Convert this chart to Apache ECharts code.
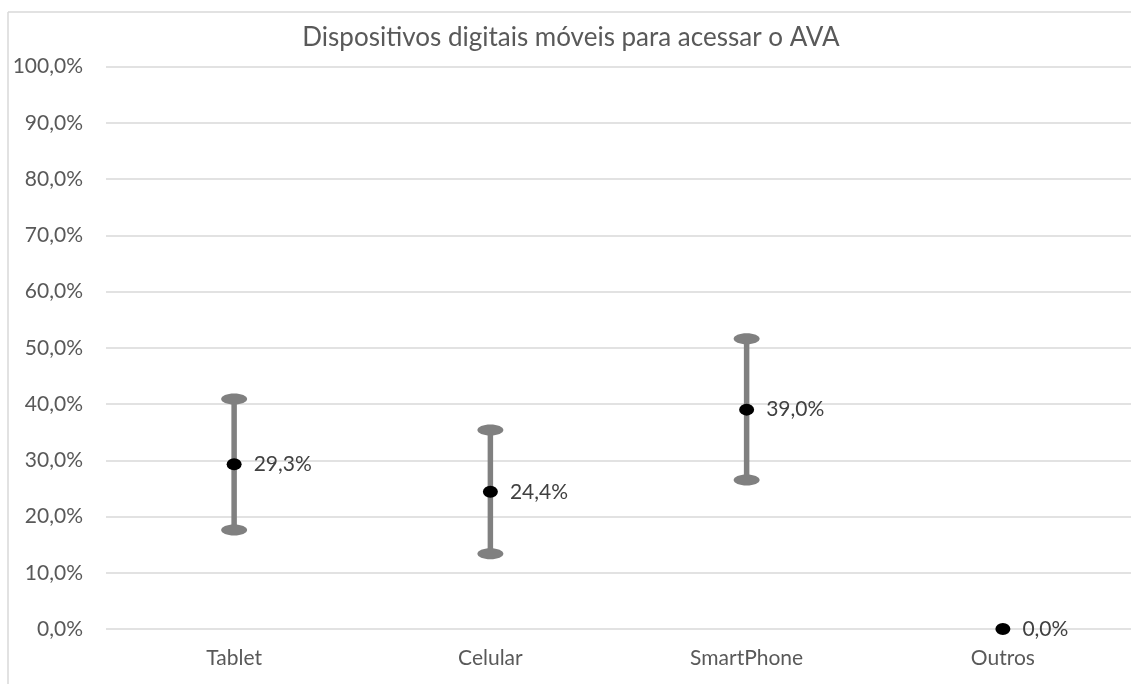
<!DOCTYPE html>
<html><head><meta charset="utf-8">
<script src="https://cdn.jsdelivr.net/npm/echarts@6/dist/echarts.min.js"></script>
<style>html,body{margin:0;padding:0;background:#fff}#c{width:1131px;height:684px}</style>
</head><body><div id="c"></div>
<script>
const categories = ['Tablet', 'Celular', 'SmartPhone', 'Outros'];
const values = [29.3, 24.4, 39.0, 0.0];
const lower = [17.6, 13.4, 26.5, 0.0];
const upper = [40.9, 35.4, 51.6, 0.0];
const yTicks = [0, 10, 20, 30, 40, 50, 60, 70, 80, 90, 100];

const fmt = v => v.toFixed(1).replace('.', ',') + '%';
const FONT = 'Lato';

const chart = echarts.init(document.getElementById('c'));
chart.setOption({
  animation: false,
  backgroundColor: '#fff',
  title: {
    text: 'Dispositivos digitais móveis para acessar o AVA',
    left: 566, top: 20, textAlign: 'center',
    textStyle: { fontFamily: FONT, fontSize: 26, fontWeight: 'normal', color: '#595959' }
  },
  graphic: [
    { type: 'line', shape: { x1: 8, y1: 12, x2: 8, y2: 684 }, style: { stroke: '#d9d9d9', lineWidth: 1.5 } },
    { type: 'line', shape: { x1: 8, y1: 12, x2: 1131, y2: 12 }, style: { stroke: '#d9d9d9', lineWidth: 1.5 } }
  ],
  grid: { left: 106, right: -8, top: 66.5, bottom: 55, containLabel: false },
  xAxis: {
    type: 'category', data: categories,
    axisLine: { show: false }, axisTick: { show: false },
    axisLabel: { fontFamily: FONT, fontSize: 21, color: '#595959', margin: 19 }
  },
  yAxis: {
    type: 'value', min: 0, max: 100, interval: 10,
    axisLine: { show: false }, axisTick: { show: false },
    axisLabel: { fontFamily: FONT, fontSize: 21, color: '#595959', margin: 23,
      formatter: v => yTicks.includes(v) ? fmt(v) : '' },
    splitLine: { lineStyle: { color: '#d9d9d9', width: 1.5 } }
  },
  series: [
    {
      type: 'custom',
      data: categories.map((c, i) => [i, lower[i], upper[i]]),
      renderItem: function (params, api) {
        const lo = api.value(1), hi = api.value(2);
        if (hi - lo <= 0) return null;
        const p1 = api.coord([api.value(0), lo]);
        const p2 = api.coord([api.value(0), hi]);
        const st = { fill: '#808080' };
        return {
          type: 'group',
          children: [
            { type: 'line', shape: { x1: p1[0], y1: p1[1], x2: p2[0], y2: p2[1] }, style: { stroke: '#808080', lineWidth: 5.5 } },
            { type: 'ellipse', shape: { cx: p1[0], cy: p1[1], rx: 13, ry: 5.5 }, style: st },
            { type: 'ellipse', shape: { cx: p2[0], cy: p2[1], rx: 13, ry: 5.5 }, style: st }
          ]
        };
      },
      z: 2
    },
    {
      type: 'scatter',
      data: values,
      symbol: 'circle',
      symbolSize: [15, 12],
      itemStyle: { color: '#000', opacity: 1 },
      label: {
        show: true, position: 'right', distance: 12,
        fontFamily: FONT, fontSize: 21, color: '#404040',
        formatter: p => fmt(p.value)
      },
      z: 3
    }
  ]
});
</script></body></html>
